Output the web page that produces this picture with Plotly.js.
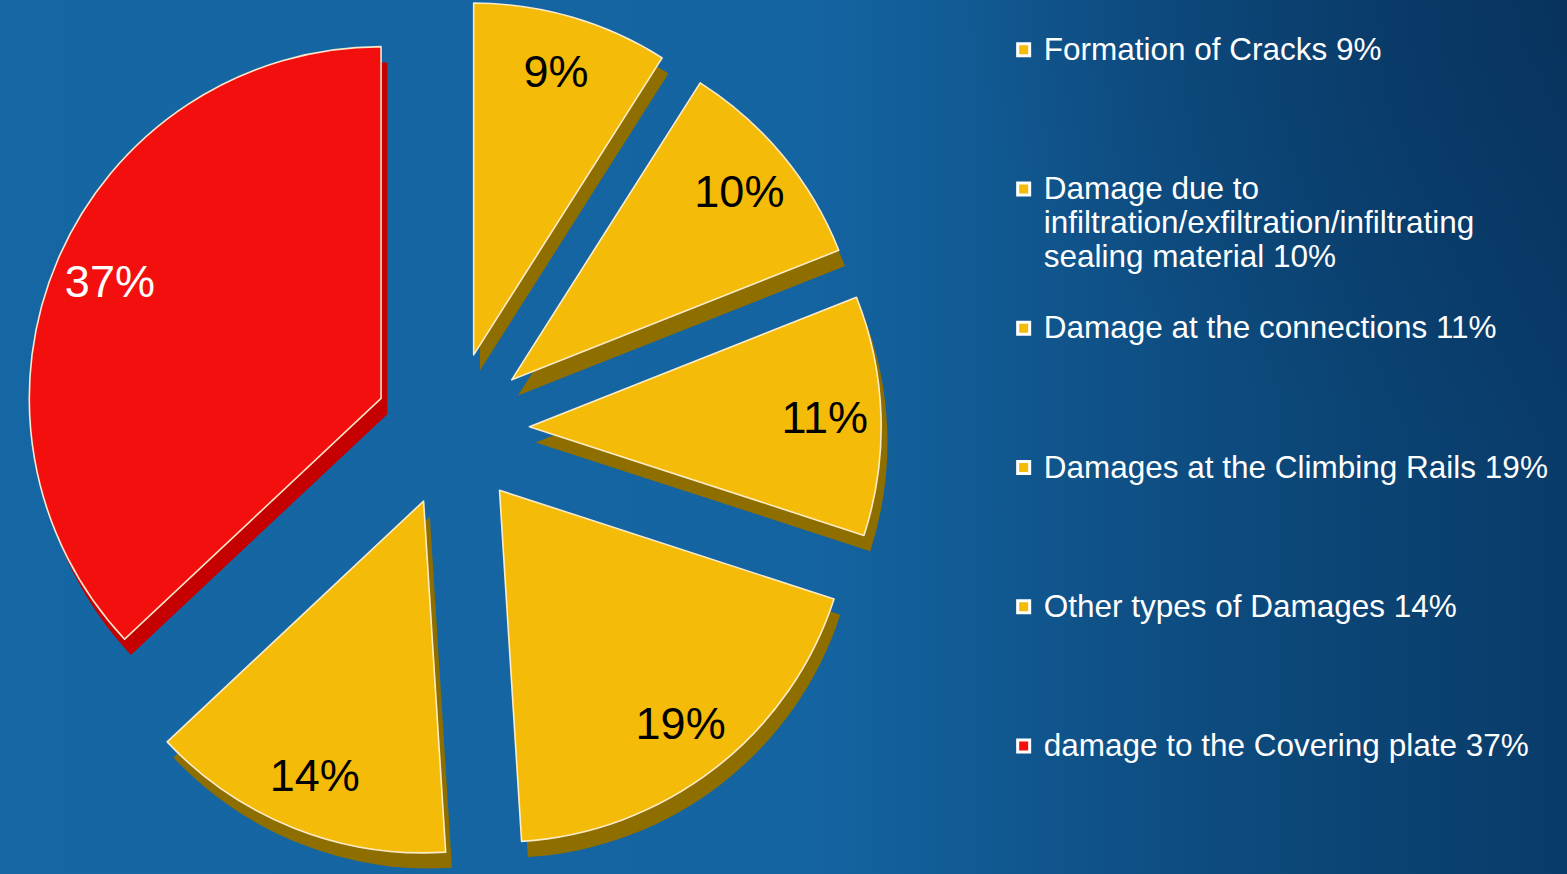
<!DOCTYPE html>
<html>
<head>
<meta charset="utf-8">
<script src="https://cdn.plot.ly/plotly-3.0.1.min.js"></script>
<style>
  html, body { margin: 0; padding: 0; }
  #chart {
    width: 1567px; height: 874px;
    background:
      radial-gradient(ellipse 600px 450px at 1567px 0px, rgba(6,35,75,0.35), rgba(6,35,75,0) 100%),
      linear-gradient(90deg, #1567a4 0%, #1464a1 52%, #115a93 62%, #0e4e83 74%, #0b4474 87%, #093b69 100%);
  }
</style>
</head>
<body>
<div id="chart"></div>
<script>
const categories = [
  "Formation of Cracks 9%",
  "Damage due to<br>infiltration/exfiltration/infiltrating<br>sealing material 10%",
  "Damage at the connections 11%",
  "Damages at the Climbing Rails 19%",
  "Other types of Damages 14%",
  "damage to the Covering plate 37%"
];
const values = [9, 10, 11, 19, 14, 37];
const sliceColors = ["#f4bb08", "#f4bb08", "#f4bb08", "#f4bb08", "#f4bb08", "#f40f0f"];
const sideColors  = ["#8f6e00", "#8f6e00", "#8f6e00", "#8f6e00", "#8f6e00", "#c40000"];
const labelColors = ["#000000", "#000000", "#000000", "#000000", "#000000", "#ffffff"];
const transparent = ["rgba(0,0,0,0)", "rgba(0,0,0,0)", "rgba(0,0,0,0)", "rgba(0,0,0,0)", "rgba(0,0,0,0)", "rgba(0,0,0,0)"];

const LINES_PER_ITEM = 4;
const legendLabels = categories.map(function (c) {
  const n = c.split("<br>").length;
  let s = '<span style="font-size:31.5px">' + c + '</span>';
  for (let i = n; i < LINES_PER_ITEM; i++) s += "<br>\u00a0";
  return s;
});

const common = {
  type: "pie",
  labels: legendLabels,
  values: values,
  sort: false,
  direction: "clockwise",
  rotation: 0,
  pull: 0.22,
  textinfo: "none",
  hoverinfo: "none"
};

// legend-only swatches: a tiny pie hidden underneath the big red slice
const legendTrace = Object.assign({}, common, {
  domain: { x: [0.12, 0.1206], y: [0.6, 0.6008] },
  pull: 0,
  marker: { colors: sliceColors, line: { color: "#ffffff", width: 3 } },
  showlegend: true
});

const sideTrace = Object.assign({}, common, {
  domain: { x: [0.004, 0.581], y: [0, 0.982] },
  marker: { colors: sideColors, line: { width: 0 } },
  showlegend: false
});

const topTrace = Object.assign({}, common, {
  domain: { x: [0, 0.577], y: [0.018, 1] },
  marker: { colors: sliceColors, line: { color: "rgba(255,240,210,0.95)", width: 1.6 } },
  showlegend: false
});

const labelTrace = Object.assign({}, common, {
  domain: { x: [0, 0.577], y: [0.018, 1] },
  hole: 0.68,
  marker: { colors: transparent, line: { width: 0 } },
  textinfo: "percent",
  texttemplate: "%{percent:.0%}",
  textposition: "inside",
  insidetextorientation: "horizontal",
  insidetextfont: { family: "Liberation Sans, Arial, sans-serif", size: 45, color: labelColors },
  showlegend: false
});

const layout = {
  width: 1567, height: 874,
  margin: { l: 0, r: 0, t: 0, b: 0 },
  paper_bgcolor: "rgba(0,0,0,0)",
  plot_bgcolor: "rgba(0,0,0,0)",
  showlegend: true,
  legend: {
    x: 0.6405, xanchor: "left",
    y: 0.97, yanchor: "top",
    valign: "top",
    bgcolor: "rgba(0,0,0,0)",
    font: { family: "Liberation Sans, Arial, sans-serif", size: 26.2, color: "#ffffff" },
    itemclick: false, itemdoubleclick: false
  }
};

Plotly.newPlot("chart", [legendTrace, sideTrace, topTrace, labelTrace], layout, { displayModeBar: false, staticPlot: true });
</script>
</body>
</html>
